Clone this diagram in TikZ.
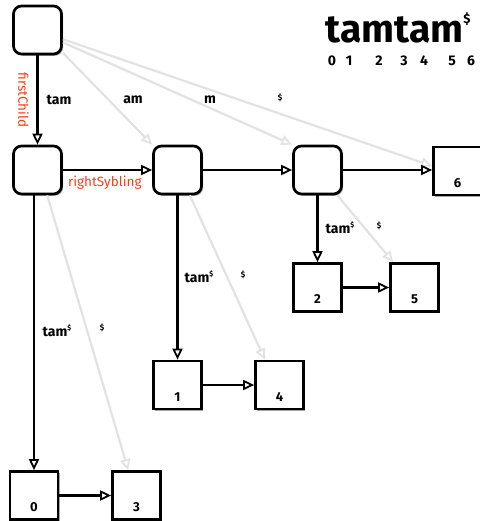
\documentclass[tikz,border=0pt]{standalone}
\usepackage{fontspec}
\setmainfont{Fira Sans}
\usetikzlibrary{arrows.meta,shadows,calc}
\definecolor{linkred}{HTML}{FF3B14}
\definecolor{faint}{HTML}{E2E2E2}
\newcommand\sdol{\raisebox{0.45em}{\fontsize{7}{7}\selectfont\$}}
\begin{document}
\begin{tikzpicture}[x=1pt,y=-1pt,
  boxshadow/.style={drop shadow={shadow xshift=1.5pt,shadow yshift=-1.8pt,opacity=0.35,fill=black}},
  inner/.style={draw,line width=2.7pt,rounded corners=8pt,minimum width=48pt,minimum height=48pt,fill=white,boxshadow},
  leaf/.style={draw,line width=2.7pt,minimum width=48pt,minimum height=48pt,fill=white,boxshadow},
  leaflbl/.style={yshift=-12pt,font=\fontsize{13}{15}\bfseries},
  tree/.style={line width=2.5pt,-{Triangle[open,fill=white,length=11pt,width=10pt,line width=1.8pt]}},
  skip/.style={faint,line width=2.2pt,-{Triangle[open,fill=white,length=11pt,width=10pt,line width=1.8pt]}},
  edgelbl/.style={font=\fontsize{14}{16}\bfseries},
  smalldol/.style={font=\fontsize{8}{9}\bfseries},
  redlbl/.style={text=linkred,font=\fontsize{13.5}{15}\selectfont},
  digit/.style={font=\fontsize{14}{16}\bfseries}]
\useasboundingbox (0,0) rectangle (479,521);

% the string and its positions
\node (title) at (398,28) {\fontsize{39}{41}\bfseries tamtam\raisebox{0.5em}{\fontsize{13}{13}\selectfont\$}};
\foreach \d/\x in {0/332,1/349,2/379,3/404,4/424,5/452,6/471}
  \node[digit] (d\d) at (\x,61) {\d};

% internal nodes
\node[inner] (root) at (37.5,30) {};
\node[inner] (n1) at (37.5,170) {};
\node[inner] (n2) at (177.5,170) {};
\node[inner] (n3) at (317.5,170) {};

% leaves, labelled with suffix start positions
\node[leaf,label={[leaflbl]center:6}] (l6) at (457.5,171) {};
\node[leaf,label={[leaflbl]center:2}] (l2) at (317.5,287.5) {};
\node[leaf,label={[leaflbl]center:5}] (l5) at (414.5,287.5) {};
\node[leaf,label={[leaflbl]center:1}] (l1) at (177.5,385) {};
\node[leaf,label={[leaflbl]center:4}] (l4) at (279.5,385) {};
\node[leaf,label={[leaflbl]center:0}] (l0) at (34,495.5) {};
\node[leaf,label={[leaflbl]center:3}] (l3) at (136.5,495.5) {};

% suffix links drawn faintly
\draw[skip] (root.-42) -- (n2.135);
\draw[skip] (root.-26) -- (n3.135);
\draw[skip] (root.-20) -- ($(l6.west)+(0,-5)$);
\draw[skip] (n1.-69) -- (l3.108);
\draw[skip] (n2.-64) -- (l4.120);
\draw[skip] (n3.-52) -- (l5.130);

% first child links
\draw[tree] (root) -- (n1)
  node[pos=0.5,xshift=-14pt,rotate=-90,redlbl] (fc) {firstChild};
\draw[tree] (n1.south -| l0.north) -- (l0.north);
\draw[tree] (n2) -- (l1);
\draw[tree] (n3) -- (l2);

% right sibling links
\draw[tree] (n1) -- (n2)
  node[pos=0.47,below=1pt,redlbl] (rs) {rightSybling};
\draw[tree] (n2) -- (n3);
\draw[tree] (n3.east) -- (n3.east -| l6.west);
\draw[tree] (l2) -- (l5);
\draw[tree] (l1) -- (l4);
\draw[tree] (l0) -- (l3);

% edge labels
\node[edgelbl] (e1) at (59,100) {tam};
\node[edgelbl] (e2) at (133,100) {am};
\node[edgelbl] (e3) at (210,100) {m};
\node[smalldol] (e4) at (280,98) {\$};
\node[edgelbl] (e5) at (57,331) {tam\sdol};
\node[smalldol] (e6) at (102,328) {\$};
\node[edgelbl] (e7) at (199,277) {tam\sdol};
\node[smalldol] (e8) at (243,275) {\$};
\node[edgelbl] (e9) at (340,228) {tam\sdol};
\node[smalldol] (e10) at (379,226) {\$};
\end{tikzpicture}
\end{document}
